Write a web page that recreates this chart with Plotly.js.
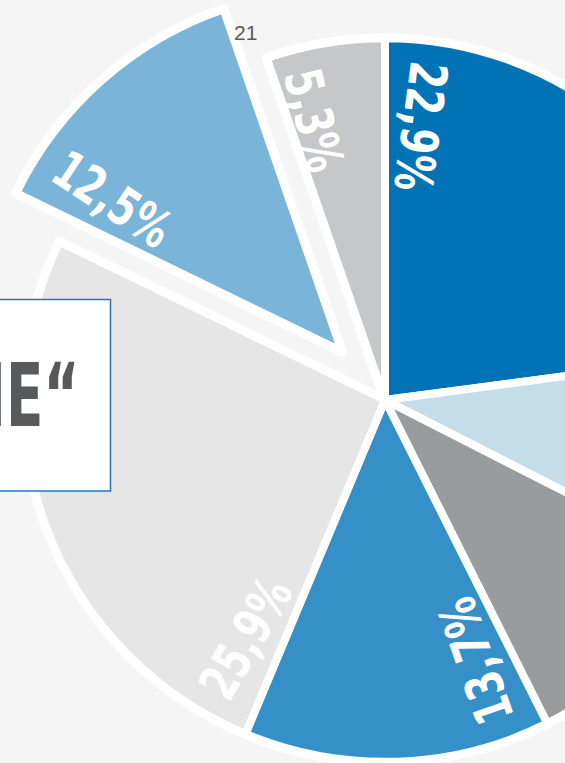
<!DOCTYPE html>
<html><head><meta charset="utf-8">
<script src="https://cdn.plot.ly/plotly-3.0.1.min.js"></script>
<style>
html,body{margin:0;padding:0;width:565px;height:763px;overflow:hidden;background:#f5f5f5;}
#chart{position:absolute;left:-42px;top:-27px;width:854px;height:854px;}
</style></head><body><div id="chart"></div>
<script>
// ---- data ----
const sliceNames = ['Segment 1','Segment 2','Segment 3','Segment 4','Segment 5','Segment 6','Segment 7'];
const shares = [22.9, 9.6, 10.1, 13.7, 25.9, 12.5, 5.3];
const sliceColors = ['#0073b6','#c5dde9','#9a9b9d','#3590c8','#e6e6e6','#7ab4d8','#c6c7c9'];
const slicePull = [0, 0, 0, 0, 0, 0.18, 0];
const boxText = '„ENERGIE“';
const pageNumber = '21';

// ---- geometry helpers ----
const W = 854, OFFX = 42, OFFY = 27;          // plot div placed at (-42,-27)
const VIEW_W = 565;
const maxPull = Math.max(...slicePull);
const R = (W / 2) / (1 + maxPull);
const cx = W / 2, cy = W / 2;
const rad = d => d * Math.PI / 180;
const px = wx => (wx + OFFX) / W;             // window x -> paper
const py = wy => 1 - (wy + OFFY) / W;         // window y -> paper

const condensed = 'DejaVu Sans Condensed, Liberation Sans Narrow, sans-serif';
const labelFont = {family: condensed, size: 52, color: '#ffffff'};
const labelSqueeze = 0.8;
const fmt = v => v.toFixed(1).replace('.', ',') + '%';

const annotations = [];
const squeeze = [];
let cum = 0;
shares.forEach((v, i) => {
  const a0 = cum / 100 * 360, span = v / 100 * 360; cum += v;
  const mid = a0 + span / 2;
  const pr = slicePull[i] * R;
  const ox = cx + pr * Math.sin(rad(mid)), oy = cy - pr * Math.cos(rad(mid));
  const th = a0 + Math.min(7.5, 0.25 * span);
  const txt = fmt(v);
  const nd = txt.replace(/[^0-9]/g, '').length;
  const L = labelSqueeze * labelFont.size * (0.626 * nd + 0.313 + 0.9);
  const rc = 0.94 * R - L / 2;
  const x = ox + rc * Math.sin(rad(th)), y = oy - rc * Math.cos(rad(th));
  if (x - OFFX > VIEW_W - 20) return;          // label lies outside the visible crop
  const ang = Math.atan2(Math.cos(rad(th)), -Math.sin(rad(th))) * 180 / Math.PI;
  squeeze.push({index: annotations.length, s: labelSqueeze, pivot: 'center'});
  annotations.push({x: x / W, y: 1 - y / W, xref: 'paper', yref: 'paper', text: '<b>' + txt + '</b>',
    textangle: ang, showarrow: false, xanchor: 'center', yanchor: 'middle', font: labelFont});
});

squeeze.push({index: annotations.length, s: 0.7, pivot: 'right'});
annotations.push({x: px(80), y: py(396), xref: 'paper', yref: 'paper', text: '<b>' + boxText + '</b>',
  showarrow: false, xanchor: 'right', yanchor: 'middle', borderpad: 0,
  font: {family: condensed, size: 87, color: '#58595b'}});
annotations.push({x: px(245), y: py(33), xref: 'paper', yref: 'paper', text: pageNumber,
  showarrow: false, xanchor: 'center', yanchor: 'middle',
  font: {family: 'Liberation Sans, Arial, sans-serif', size: 21, color: '#595959'}});

const base = {type: 'pie', values: shares, labels: sliceNames, sort: false, direction: 'clockwise',
  rotation: 0, pull: slicePull, textinfo: 'none', hoverinfo: 'skip', showlegend: false,
  domain: {x: [0, 1], y: [0, 1]}};
const outline = Object.assign({}, base, {marker: {colors: shares.map(() => '#ffffff'), line: {color: '#ffffff', width: 10}}});
const main = Object.assign({}, base, {marker: {colors: sliceColors, line: {color: '#ffffff', width: 8}}});

const layout = {
  width: W, height: W, margin: {l: 0, r: 0, t: 0, b: 0},
  paper_bgcolor: '#f5f5f5', plot_bgcolor: '#f5f5f5', showlegend: false,
  shapes: [{type: 'rect', xref: 'paper', yref: 'paper', x0: px(-10), x1: px(110.5), y0: py(299.5), y1: py(491),
    fillcolor: '#ffffff', line: {color: '#1f78c1', width: 1.5}, layer: 'above'}],
  annotations: annotations
};
Plotly.newPlot('chart', [outline, main], layout, {displayModeBar: false, staticPlot: true}).then(gd => {
  squeeze.forEach(({index, s, pivot}) => {
    const t = gd.querySelector('.annotation[data-index="' + index + '"] text.annotation-text');
    if (!t) return;
    const bb = t.getBBox();
    const p0 = pivot === 'right' ? bb.x + bb.width : bb.x + bb.width / 2;
    const prev = t.getAttribute('transform') || '';
    t.setAttribute('transform', prev + ' translate(' + p0 + ',0) scale(' + s + ',1) translate(' + (-p0) + ',0)');
  });
});
</script></body></html>
